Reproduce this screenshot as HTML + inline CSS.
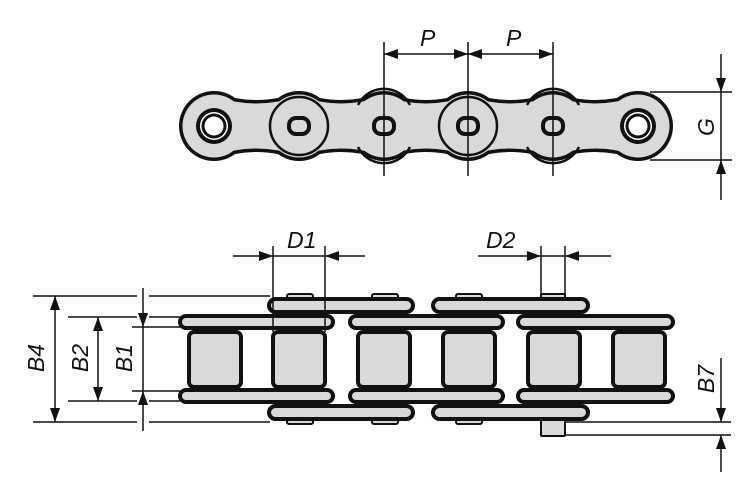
<!DOCTYPE html>
<html><head><meta charset="utf-8"><style>
html,body{margin:0;padding:0;background:#fff;width:750px;height:492px;overflow:hidden}
svg{display:block}
text{font-family:"Liberation Sans",sans-serif;font-style:italic;font-size:23px;fill:#111}
</style></head><body>
<svg width="750" height="492" viewBox="0 0 750 492" xmlns="http://www.w3.org/2000/svg">
<defs>
<marker id="a" viewBox="0 0 14 10" refX="14" refY="5" markerWidth="14" markerHeight="10" markerUnits="userSpaceOnUse" orient="auto"><path d="M0,0 L14,5 L0,10 z" fill="#111"/></marker>
</defs>
<!-- TOP VIEW -->
<g>
 <g fill="#111">
  <circle cx="214" cy="126" r="35"/><circle cx="299" cy="126" r="35"/><circle cx="384" cy="126" r="35"/>
  <circle cx="468" cy="126" r="35"/><circle cx="553" cy="126" r="35"/><circle cx="638" cy="126" r="35"/>
  <path d="M214,92 Q256,108 299,92 Q341,108 384,92 Q426,108 468,92 Q510,108 553,92 Q595,108 638,92 L638,160 Q595,144 553,160 Q510,144 468,160 Q426,144 384,160 Q341,144 299,160 Q256,144 214,160 Z"/>
 </g>
 <g fill="#d9d9d9">
  <circle cx="214" cy="126" r="31.5"/><circle cx="299" cy="126" r="31.5"/><circle cx="384" cy="126" r="31.5"/>
  <circle cx="468" cy="126" r="31.5"/><circle cx="553" cy="126" r="31.5"/><circle cx="638" cy="126" r="31.5"/>
  <path d="M214,96 Q256,111 299,96 Q341,111 384,96 Q426,111 468,96 Q510,111 553,96 Q595,111 638,96 L638,156 Q595,141 553,156 Q510,141 468,156 Q426,141 384,156 Q341,141 299,156 Q256,141 214,156 Z"/>
 </g>
 <g fill="none" stroke="#111" stroke-width="2.5">
  <circle cx="299" cy="126" r="29"/><circle cx="468" cy="126" r="29"/>
  <path d="M358,105 A29,29 0 0 1 410,105 M358,147 A29,29 0 0 0 410,147"/>
  <path d="M527,105 A29,29 0 0 1 579,105 M527,147 A29,29 0 0 0 579,147"/>
 </g>
 <g>
  <circle cx="214" cy="126" r="18" fill="#111"/><circle cx="214" cy="126" r="14" fill="#fff"/><circle cx="214" cy="126" r="12.5" fill="#111"/><circle cx="214" cy="126" r="9.5" fill="#fff"/>
  <circle cx="638" cy="126" r="18" fill="#111"/><circle cx="638" cy="126" r="14" fill="#fff"/><circle cx="638" cy="126" r="12.5" fill="#111"/><circle cx="638" cy="126" r="9.5" fill="#fff"/>
 </g>
 <g fill="#d9d9d9" stroke="#111" stroke-width="4">
  <rect x="289" y="118" width="20" height="16" rx="7"/>
  <rect x="374" y="118" width="20" height="16" rx="7"/>
  <rect x="458" y="118" width="20" height="16" rx="7"/>
  <rect x="543" y="118" width="20" height="16" rx="7"/>
 </g>
 <g stroke="#111" stroke-width="1.5" fill="none">
  <line x1="384" y1="42" x2="384" y2="176"/><line x1="468" y1="42" x2="468" y2="176"/><line x1="553" y1="42" x2="553" y2="176"/>
  <line x1="384" y1="54" x2="468" y2="54" marker-end="url(#a)"/>
  <line x1="468" y1="54" x2="553" y2="54" marker-end="url(#a)"/>
  <line x1="650" y1="92" x2="732" y2="92"/><line x1="650" y1="160" x2="732" y2="160"/>
  <line x1="721" y1="160" x2="721" y2="92"/>
  <line x1="721" y1="54" x2="721" y2="92" marker-end="url(#a)"/>
  <line x1="721" y1="200" x2="721" y2="160" marker-end="url(#a)"/>
 </g>
 <path d="M384,54 l14,-5 v10z M468,54 l14,-5 v10z" fill="#111"/>
 <text x="420" y="46">P</text><text x="506" y="46">P</text>
 <text transform="translate(714,127) rotate(-90)" text-anchor="middle">G</text>
</g>
<!-- BOTTOM VIEW -->
<g stroke="#111" stroke-width="4" fill="#d9d9d9">
 <g stroke-width="2">
  <rect x="287" y="294" width="26" height="130" rx="2"/>
  <rect x="372" y="294" width="26" height="130" rx="2"/>
  <rect x="456" y="294" width="26" height="130" rx="2"/>
  <rect x="541" y="294" width="24" height="142" rx="1"/>
 </g>
 <rect x="269" y="299" width="144" height="13" rx="6.5"/>
 <rect x="433" y="299" width="155" height="13" rx="6.5"/>
 <rect x="269" y="406" width="144" height="13" rx="6.5"/>
 <rect x="433" y="406" width="155" height="13" rx="6.5"/>
 <rect x="180" y="316" width="153" height="12" rx="6"/>
 <rect x="350" y="316" width="153" height="12" rx="6"/>
 <rect x="518" y="316" width="155" height="12" rx="6"/>
 <rect x="180" y="390" width="153" height="12" rx="6"/>
 <rect x="350" y="390" width="153" height="12" rx="6"/>
 <rect x="518" y="390" width="155" height="12" rx="6"/>
 <rect x="189" y="332" width="52" height="55" rx="5"/>
 <rect x="273" y="332" width="52" height="55" rx="5"/>
 <rect x="358" y="332" width="52" height="55" rx="5"/>
 <rect x="443" y="332" width="52" height="55" rx="5"/>
 <rect x="528" y="332" width="52" height="55" rx="5"/>
 <rect x="613" y="332" width="52" height="55" rx="5"/>
</g>
<g stroke="#111" stroke-width="1.5" fill="none">
 <line x1="33" y1="296" x2="137" y2="296"/><line x1="149" y1="296" x2="270" y2="296"/>
 <line x1="33" y1="422" x2="137" y2="422"/><line x1="149" y1="422" x2="270" y2="422"/>
 <line x1="55" y1="359" x2="55" y2="296" marker-end="url(#a)"/><line x1="55" y1="359" x2="55" y2="422" marker-end="url(#a)"/>
 <line x1="68" y1="317" x2="137" y2="317"/><line x1="149" y1="317" x2="180" y2="317"/>
 <line x1="68" y1="401" x2="137" y2="401"/><line x1="149" y1="401" x2="180" y2="401"/>
 <line x1="98" y1="359" x2="98" y2="317" marker-end="url(#a)"/><line x1="98" y1="359" x2="98" y2="401" marker-end="url(#a)"/>
 <line x1="132" y1="327" x2="190" y2="327"/><line x1="132" y1="391" x2="190" y2="391"/>
 <line x1="143" y1="327" x2="143" y2="391"/>
 <line x1="143" y1="288" x2="143" y2="327" marker-end="url(#a)"/>
 <line x1="143" y1="431" x2="143" y2="391" marker-end="url(#a)"/>
 <line x1="273" y1="246" x2="273" y2="332"/><line x1="325" y1="246" x2="325" y2="332"/>
 <line x1="233" y1="256" x2="273" y2="256" marker-end="url(#a)"/>
 <line x1="365" y1="256" x2="325" y2="256" marker-end="url(#a)"/>
 <line x1="273" y1="256" x2="325" y2="256"/>
 <line x1="541" y1="246" x2="541" y2="296"/><line x1="565" y1="246" x2="565" y2="296"/>
 <line x1="478" y1="256" x2="541" y2="256" marker-end="url(#a)"/>
 <line x1="611" y1="256" x2="565" y2="256" marker-end="url(#a)"/>
 <line x1="541" y1="256" x2="565" y2="256"/>
 <line x1="566" y1="422" x2="731" y2="422"/><line x1="566" y1="435" x2="731" y2="435"/>
 <line x1="721" y1="358" x2="721" y2="422" marker-end="url(#a)"/>
 <line x1="721" y1="472" x2="721" y2="435" marker-end="url(#a)"/>
</g>
<text x="287" y="248">D1</text>
<text x="486" y="248">D2</text>
<text transform="translate(44,358) rotate(-90)" text-anchor="middle">B4</text>
<text transform="translate(88,358) rotate(-90)" text-anchor="middle">B2</text>
<text transform="translate(132,358) rotate(-90)" text-anchor="middle">B1</text>
<text transform="translate(714,379) rotate(-90)" text-anchor="middle">B7</text>
</svg>
</body></html>
